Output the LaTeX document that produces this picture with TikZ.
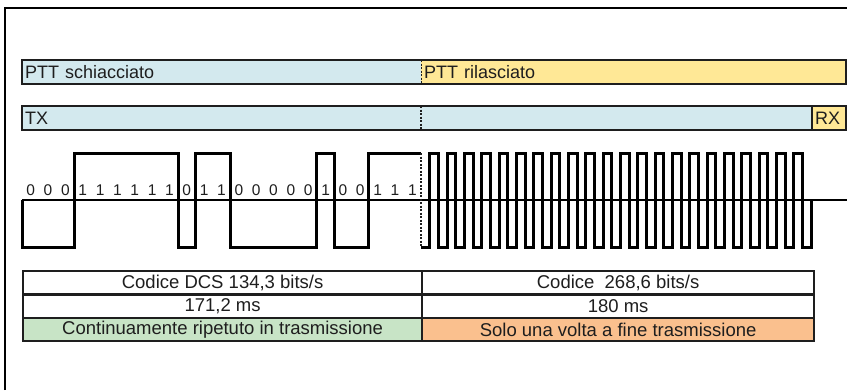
\documentclass[tikz,border=0pt]{standalone}
\usepackage{fontspec}
\setmainfont{Liberation Sans}
\definecolor{barblue}{RGB}{211,233,238}
\definecolor{baryellow}{RGB}{255,232,150}
\definecolor{cellgreen}{RGB}{200,228,198}
\definecolor{cellorange}{RGB}{250,192,142}
\definecolor{ink}{RGB}{30,30,30}
\tikzset{
  barfill/.style={anchor=north west, inner xsep=3bp, inner ysep=0pt, minimum height=23.5bp, align=left, text=ink, font=\fontsize{18bp}{20bp}\selectfont},
  barline/.style={draw=ink, line width=2.2bp},
  divider/.style={draw=ink, line width=1.6bp, dash pattern=on 2bp off 1.5bp},
  cell/.style={draw=ink, line width=2.2bp, anchor=north west, inner sep=0pt, minimum height=23.33bp, text=ink, font=\fontsize{18.5bp}{20bp}\selectfont},
  wave/.style={draw=black, line width=3bp, line join=miter},
  axis/.style={draw=black, line width=1.3bp},
  bitlabel/.style={inner sep=0pt, anchor=base, text=ink, font=\fontsize{15.5bp}{17bp}\selectfont},
  frameline/.style={draw=black, line width=1.8bp}
}
\begin{document}
\begin{tikzpicture}[x=1bp,y=-1bp]
\useasboundingbox (0,0) rectangle (847,390);
% frame
\draw[frameline] (5,390) -- (5,8) -- (847,8);
% PTT bar
\node[barfill, fill=barblue, text width=393bp] (pttL) at (22,60) {PTT schiacciato};
\node[barfill, fill=baryellow, text width=419bp] (pttR) at (421,60) {PTT rilasciato};
\draw[barline] (pttL.north west) rectangle (pttR.south east);
\draw[divider] (pttL.north east) -- (pttL.south east);
% TX / RX bar
\node[barfill, fill=barblue, text width=784bp] (tx) at (22,106) {TX};
\node[barfill, fill=baryellow, text width=28bp] (rx) at (812,106) {RX};
\draw[barline] (tx.north west) rectangle (rx.south east);
\draw[barline] (rx.north west) -- (rx.south west);
\draw[divider] (421,106) -- (421,129.5);
% axis
\coordinate (axL) at (22,200);
\coordinate (axR) at (847,200);
\draw[axis] (axL) -- (axR);
% DCS waveform
\draw[wave] (22,200) -- (22,247) -- (74.04,247) -- (74.04,153) -- (178.13,153) -- (178.13,247)
  -- (195.48,247) -- (195.48,153) -- (230.18,153) -- (230.18,247) -- (316.92,247) -- (316.92,153)
  -- (334.26,153) -- (334.26,247) -- (368.96,247) -- (368.96,153) -- (421,153);
\draw[divider, line width=2bp] (421,153) -- (421,247);
% turn-off code waveform
\draw[wave] (421,247)
  \foreach \j in {1,...,22} {
    -- ({421+(2*\j-1)*8.674},247) -- ({421+(2*\j-1)*8.674},153)
    -- ({421+2*\j*8.674},153) -- ({421+2*\j*8.674},247)
  } -- (811.3,247) -- (811.3,200);
% bit labels
\foreach \b [count=\k from 0] in {0,0,0,1,1,1,1,1,1,0,1,1,0,0,0,0,0,1,0,0,1,1,1} {
  \node[bitlabel] (bit\k) at ({22+(\k+0.5)*17.348},195) {\b};
}
% table
\node[cell, minimum width=399bp] (c11) at (22,270) {Codice DCS 134,3 bits/s};
\node[cell, minimum width=392bp] (c12) at (421,270) {Codice\ \ 268,6 bits/s};
\node[cell, minimum width=399bp] (c21) at (22,293.33) {171,2 ms};
\node[cell, minimum width=392bp] (c22) at (421,293.33) {180 ms};
\node[cell, minimum width=399bp, fill=cellgreen] (c31) at (22,316.67) {Continuamente ripetuto in trasmissione};
\node[cell, minimum width=392bp, fill=cellorange] (c32) at (421,316.67) {Solo una volta a fine trasmissione};
\end{tikzpicture}
\end{document}
